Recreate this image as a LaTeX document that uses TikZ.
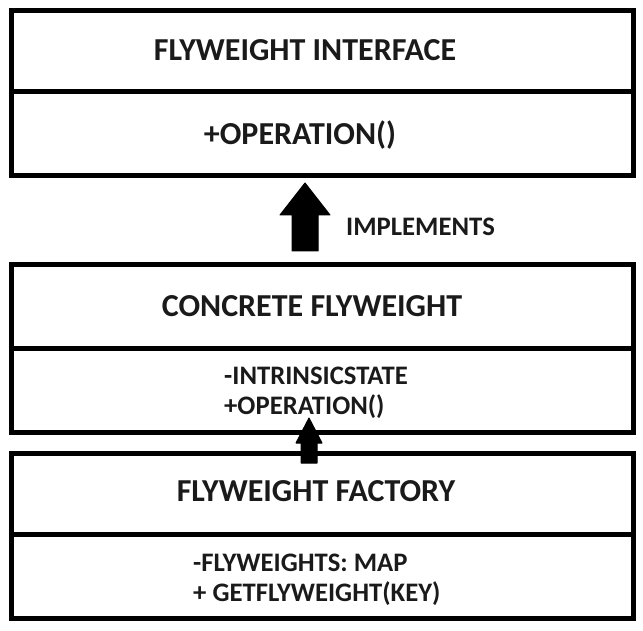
\documentclass[tikz,border=0pt]{standalone}
\usepackage{fontspec}
\setmainfont{Carlito}
\usetikzlibrary{calc}
\definecolor{ink}{HTML}{1A1A1A}
\begin{document}
\begin{tikzpicture}[x=1pt,y=-1pt,
  part/.style={draw=black, line width=5pt, minimum width=622pt, inner sep=0pt},
  title/.style={text=ink, font=\fontsize{32}{36}\selectfont\bfseries, inner sep=0pt},
  member/.style={text=ink, font=\fontsize{26.7}{30}\selectfont\bfseries, inner sep=0pt, anchor=west},
  blockarrow/.style={fill=black, draw=black, line width=1pt, line join=round}]
\useasboundingbox (0,0) rectangle (643,631);
% Flyweight interface
\node[part, minimum height=81pt] (ifaceT) at (322,51.5) {};
\node[part, minimum height=84pt] (ifaceB) at (322,134) {};
\node[title] (ifaceName) at (305,50) {FLYWEIGHT INTERFACE};
\node[title] (ifaceOp) at (300,135) {+OPERATION()};
% Concrete flyweight
\node[part, minimum height=83pt] (concT) at (322,306.5) {};
\node[part, minimum height=84pt] (concB) at (322,390) {};
\node[title] (concName) at (312,306) {CONCRETE FLYWEIGHT};
\node[member] (concState) at (224,376) {-INTRINSICSTATE};
\node[member] (concOp) at (224,407) {+OPERATION()};
% Flyweight factory
\node[part, minimum height=81pt] (factT) at (322,493.5) {};
\node[part, minimum height=84pt] (factB) at (322,576) {};
\node[title] (factName) at (316,491) {FLYWEIGHT FACTORY};
\node[member] (factMap) at (193,563) {-FLYWEIGHTS: MAP};
\node[member] (factGet) at (193,594) {+ GETFLYWEIGHT(KEY)};
% Implements arrow
\fill[blockarrow] (305,183) -- (330,215) -- (318,215) -- (318,251) -- (292,251) -- (292,215) -- (280,215) -- cycle;
\node[member] (impl) at (346,227) {IMPLEMENTS};
% Factory -> concrete arrow
\fill[blockarrow] (309,418) -- (322,443) -- (317,443) -- (317,463) -- (301,463) -- (301,443) -- (296,443) -- cycle;
\end{tikzpicture}
\end{document}
